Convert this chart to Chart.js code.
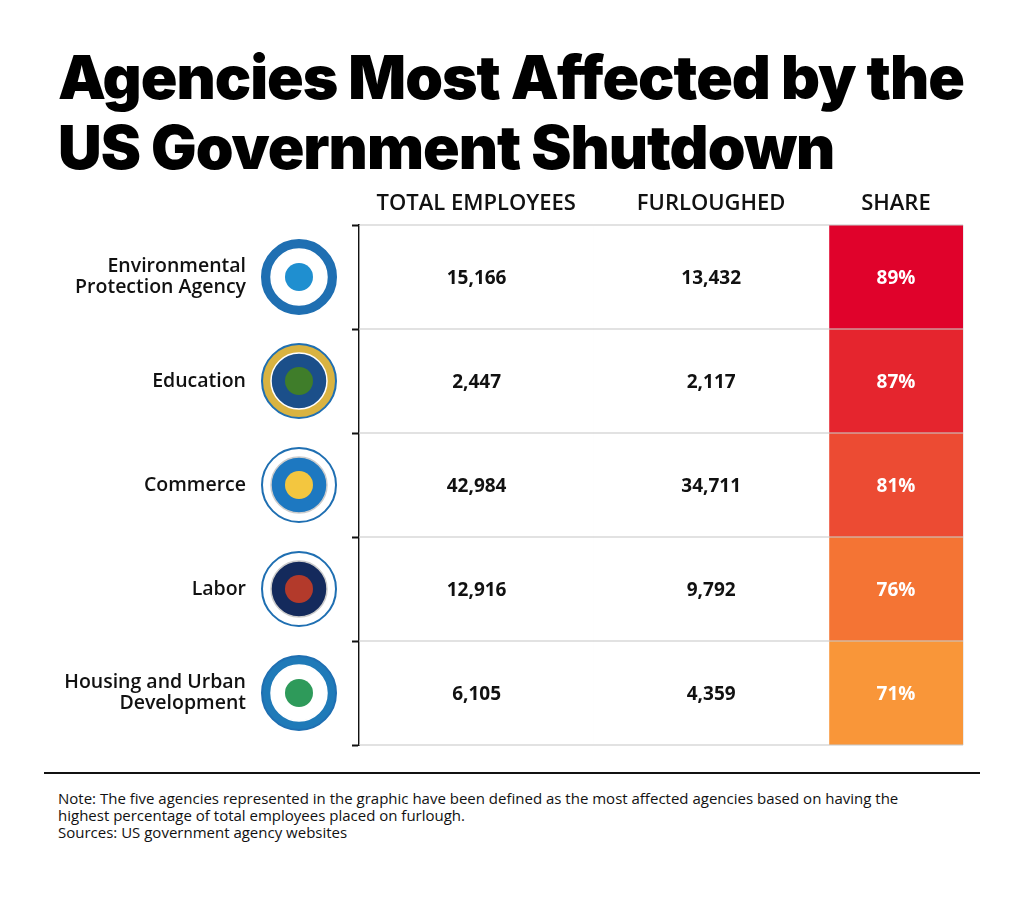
<!DOCTYPE html>
<html lang="en">
<head>
<meta charset="UTF-8" />
<title>Agencies Most Affected by the US Government Shutdown</title>
<script src="https://cdn.jsdelivr.net/npm/chart.js"></script>
<style>
  body { margin: 0; background: #fff; font-family: "Open Sans", sans-serif; }
  h1 {
    position: absolute; left: 58px; top: 42px; margin: 0;
    font-family: Inter, sans-serif; font-weight: 900; font-size: 60.5px;
    line-height: 70px; letter-spacing: -1px; color: #000;
  }
  #wrap { position: absolute; left: 0; top: 180px; width: 1024px; height: 580px; }
  hr { position: absolute; left: 44px; top: 772px; width: 936px; margin: 0; border: 0; border-top: 2px solid #111; }
  .note { position: absolute; left: 58px; top: 790px; width: 870px; font-size: 15px; line-height: 17px; color: #111; }
</style>
</head>
<body>
<h1>Agencies Most Affected by the<br>US Government Shutdown</h1>
<div id="wrap"><canvas id="c"></canvas></div>
<hr>
<div class="note">Note: The five agencies represented in the graphic have been defined as the most affected agencies based on having the highest percentage of total employees placed on furlough.<br>Sources: US government agency websites</div>
<script>
  const agencies = [['Environmental', 'Protection Agency'], ['Education'], ['Commerce'], ['Labor'], ['Housing and Urban', 'Development']];
  const columns = ['TOTAL EMPLOYEES', 'FURLOUGHED', 'SHARE'];
  const totalEmployees = [15166, 2447, 42984, 12916, 6105];
  const furloughed = [13432, 2117, 34711, 9792, 4359];
  const share = [89, 87, 81, 76, 71];
  const shareColors = ['#e0022b', '#e5252e', '#ec4b33', '#f47434', '#f99639'];
  const colEdges = [0, 236, 473, 608];
  // seal look per agency: [fill, ring, inner]
  const seals = [['#fff', '#1f6fb2', '#1f8fd0'], ['#1b4f8a', '#d9b341', '#3f7d2a'], ['#1d78c1', '#fff', '#f3c63f'], ['#142a5c', '#fff', '#b33a2b'], ['#fff', '#1f7ab8', '#2e9a5a']];

  const names = agencies.map(a => a.join(' '));
  const texts = [totalEmployees.map(v => v.toLocaleString('en-US')), furloughed.map(v => v.toLocaleString('en-US')), share.map(v => v + '%')];

  const tablePlugin = {
    id: 'table',
    afterDatasetsDraw(chart) {
      const { ctx, chartArea, scales: { x, y } } = chart;
      ctx.save();
      // row separators
      ctx.strokeStyle = 'rgba(200,200,200,0.7)'; ctx.lineWidth = 1.5;
      for (let i = 0; i <= names.length; i++) {
        const py = i === 0 ? chartArea.top : i === names.length ? chartArea.bottom
          : (y.getPixelForValue(i - 1) + y.getPixelForValue(i)) / 2;
        ctx.beginPath(); ctx.moveTo(chartArea.left, py); ctx.lineTo(chartArea.right, py); ctx.stroke();
      }
      ctx.textAlign = 'center'; ctx.textBaseline = 'middle';
      chart.data.datasets.forEach((ds, j) => {
        chart.getDatasetMeta(j).data.forEach((bar, i) => {
          ctx.fillStyle = j === 2 ? '#fff' : '#111';
          ctx.font = 'bold 19px "Open Sans"';
          ctx.fillText(texts[j][i], (bar.x + bar.base) / 2, bar.y + 2);
        });
        ctx.fillStyle = '#111';
        ctx.font = '600 22px "Open Sans"';
        ctx.fillText(columns[j], x.getPixelForValue((colEdges[j] + colEdges[j + 1]) / 2), chartArea.top - 21);
      });
      // left labels and seals
      names.forEach((n, i) => {
        const cy = y.getPixelForValue(n);
        const lines = agencies[i];
        ctx.textAlign = 'right'; ctx.fillStyle = '#111';
        ctx.font = '600 19.5px "Open Sans"';
        lines.forEach((l, k) => ctx.fillText(l, 246, cy + (k - (lines.length - 1) / 2) * 21));
        const s = seals[i], cx = 299;
        ctx.beginPath(); ctx.arc(cx, cy, 37, 0, Math.PI * 2); ctx.fillStyle = s[1]; ctx.fill();
        ctx.lineWidth = 2; ctx.strokeStyle = '#1f6fb2'; ctx.stroke();
        ctx.beginPath(); ctx.arc(cx, cy, 28, 0, Math.PI * 2); ctx.fillStyle = s[0]; ctx.fill();
        ctx.lineWidth = 1.5; ctx.strokeStyle = s[1] === '#fff' ? '#ccc' : '#fff'; ctx.stroke();
        ctx.beginPath(); ctx.arc(cx, cy, 14, 0, Math.PI * 2); ctx.fillStyle = s[2]; ctx.fill();
      });
      ctx.restore();
    }
  };

  new Chart(document.getElementById('c'), {
    type: 'bar',
    data: {
      labels: names,
      datasets: columns.map((c, j) => ({
        label: c,
        data: names.map(() => [colEdges[j], colEdges[j + 1]]),
        backgroundColor: j === 2 ? shareColors : '#fff',
        borderWidth: 0,
        categoryPercentage: 1,
        barPercentage: 1,
        grouped: false
      }))
    },
    options: {
      indexAxis: 'y',
      responsive: true,
      maintainAspectRatio: false,
      animation: false,
      layout: { padding: { left: 352, right: 61, top: 45, bottom: 15 } },
      plugins: { legend: { display: false }, tooltip: { enabled: false } },
      scales: {
        x: {
          type: 'linear', min: 0, max: 608, z: 1,
          afterBuildTicks: ax => { ax.ticks = colEdges.map(v => ({ value: v })); },
          ticks: { display: false },
          grid: { color: 'rgba(200,200,200,0.7)', lineWidth: 1.5, drawTicks: false },
          border: { display: false }
        },
        y: {
          offset: true, z: 1,
          ticks: { display: false },
          grid: { offset: true, drawOnChartArea: false, tickColor: '#111', tickLength: 7, tickWidth: 2 },
          border: { display: true, color: '#111', width: 2 }
        }
      }
    },
    plugins: [tablePlugin]
  });
</script>
</body>
</html>
